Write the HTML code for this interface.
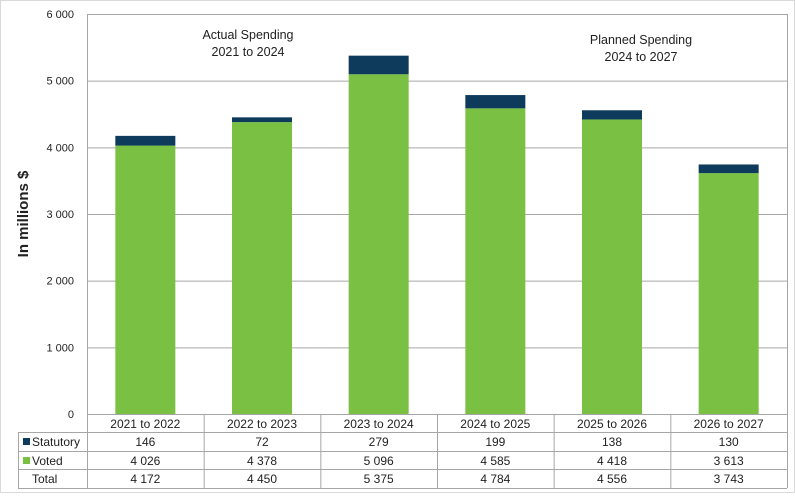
<!DOCTYPE html>
<html><head><meta charset="utf-8"><style>
body{margin:0;background:#fff;font-family:"Liberation Sans",Arial,sans-serif;}
svg text{font-family:"Liberation Sans",Arial,sans-serif;fill:#222;}
</style></head><body>
<svg id="chart" width="795" height="493" xmlns="http://www.w3.org/2000/svg"></svg>
<script>
const categories=["2021 to 2022","2022 to 2023","2023 to 2024","2024 to 2025","2025 to 2026","2026 to 2027"];
const statutory=[146,72,279,199,138,130];
const voted=[4026,4378,5096,4585,4418,3613];
const totals=[4172,4450,5375,4784,4556,3743];
const yTicks=[0,1000,2000,3000,4000,5000,6000];
const NS="http://www.w3.org/2000/svg";
const svg=document.getElementById('chart');
const L=87,R=787,T=14,B=414,yMax=6000;
const colW=(R-L)/categories.length;
const y=v=>B-(v/yMax)*(B-T);
const xc=i=>L+colW*(i+0.5);
const fmt=v=>{const s=String(v);return s.length>3?s.slice(0,-3)+" "+s.slice(-3):s;};
function el(tag,attrs,txt){const e=document.createElementNS(NS,tag);for(const k in attrs)e.setAttribute(k,attrs[k]);if(txt!==undefined)e.textContent=txt;svg.appendChild(e);return e;}
const bd=el('rect',{x:0.5,y:0.5,width:794,height:492,fill:'none',stroke:'#d9d9d9'});


yTicks.forEach(t=>{
 const g=el('line',{x1:L,x2:R,y1:y(t)+0.5,y2:y(t)+0.5,stroke:'#a6a6a6','stroke-width':1});
 
 
 const tl=el('text',{x:74,y:y(t)+4,'text-anchor':'end','font-size':11},fmt(t));
 
 
});
el('line',{x1:L+0.5,x2:L+0.5,y1:T,y2:488,stroke:'#a6a6a6'});
el('line',{x1:R+0.5,x2:R+0.5,y1:T,y2:488,stroke:'#a6a6a6'});
const yt=el('text',{x:28,y:214,'text-anchor':'middle','font-size':15,'font-weight':'bold',transform:'rotate(-90 28 214)'},'In millions $');


const bw=60;
categories.forEach((c,i)=>{
 const bv=el('rect',{x:xc(i)-bw/2,y:y(voted[i]),width:bw,height:B-y(voted[i]),fill:'#7AC143'});
 
 
 const bs=el('rect',{x:xc(i)-bw/2,y:y(voted[i]+statutory[i]),width:bw,height:y(voted[i])-y(voted[i]+statutory[i]),fill:'#0E3A5C'});
 
 
});
const rows=[414,432,451,469,488];
const tableLeft=18;
for(let r=1;r<rows.length;r++){el('line',{x1:tableLeft,x2:R,y1:rows[r]+0.5,y2:rows[r]+0.5,stroke:'#a6a6a6'});}
el('line',{x1:tableLeft+0.5,x2:tableLeft+0.5,y1:432,y2:488,stroke:'#a6a6a6'});
for(let i=1;i<categories.length;i++){el('line',{x1:L+colW*i+0.5,x2:L+colW*i+0.5,y1:414,y2:488,stroke:'#a6a6a6'});}
categories.forEach((c,i)=>{
 const t=el('text',{x:xc(i),y:428,'text-anchor':'middle','font-size':12},c);
 
 
 [statutory,voted,totals].forEach((arr,r)=>{
  const v=el('text',{x:xc(i),y:rows[r+1]+14,'text-anchor':'middle','font-size':12},fmt(arr[i]));
  
  
 });
});
const labels=[["Statutory","#0E3A5C"],["Voted","#7AC143"],["Total",null]];
labels.forEach((l,r)=>{
 if(l[1]){const k=el('rect',{x:23,y:rows[r+1]+6,width:7,height:7,fill:l[1]});
  
  }
 const t=el('text',{x:32,y:rows[r+1]+14,'font-size':12},l[0]);
 
 
});
[["Actual Spending",248,39],["2021 to 2024",248,56],["Planned Spending",641,44],["2024 to 2027",641,61]].forEach(a=>{
 const t=el('text',{x:a[1],y:a[2],'text-anchor':'middle','font-size':12.5},a[0]);
 
 
});
</script>
</body></html>
